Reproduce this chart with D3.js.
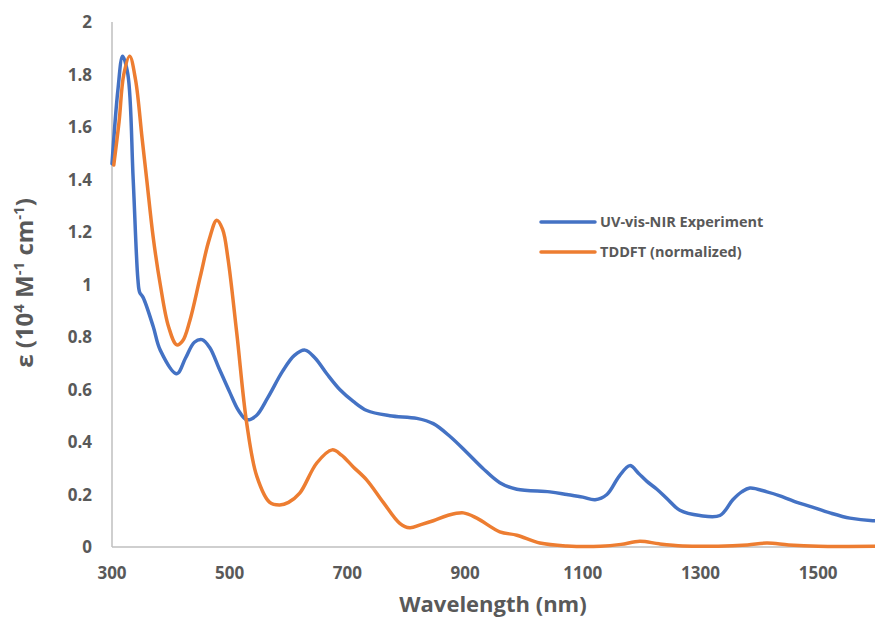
<!DOCTYPE html>
<html>
<head>
<meta charset="utf-8">
<script src="https://cdn.jsdelivr.net/npm/d3@7"></script>
<style>
  html, body { margin: 0; padding: 0; background: #fff; }
  svg text { font-family: "Open Sans", Lato, sans-serif; font-weight: bold; fill: #595959; }
</style>
</head>
<body>
<svg id="chart" width="875" height="617"></svg>
<script>
// Wavelength grid (nm) and absorbance values (10^4 M^-1 cm^-1)
const expWavelength = [300, 310, 318, 327, 336, 344, 347, 353, 370, 382, 410, 425, 440, 453, 466, 482, 500, 515, 529, 545, 565, 590, 610, 628, 645, 665, 687, 710, 733, 772, 818, 846, 875, 903, 930, 959, 988, 1044, 1073, 1100, 1121, 1141, 1162, 1180, 1195, 1209, 1226, 1245, 1265, 1299, 1333, 1355, 1370, 1384, 1413, 1435, 1464, 1486, 1520, 1554, 1593, 1600];
const expValues     = [1.46, 1.74, 1.87, 1.80, 1.40, 1.02, 0.97, 0.95, 0.84, 0.75, 0.66, 0.72, 0.78, 0.79, 0.76, 0.68, 0.59, 0.52, 0.485, 0.50, 0.57, 0.67, 0.73, 0.75, 0.72, 0.66, 0.60, 0.555, 0.52, 0.50, 0.49, 0.47, 0.42, 0.36, 0.30, 0.245, 0.22, 0.21, 0.20, 0.19, 0.18, 0.20, 0.27, 0.31, 0.28, 0.25, 0.22, 0.18, 0.14, 0.12, 0.12, 0.18, 0.21, 0.225, 0.21, 0.195, 0.17, 0.155, 0.13, 0.11, 0.10, 0.10];

const calcWavelength = [303, 312, 320, 330, 340, 351, 359, 370, 382, 396, 410, 420, 432, 450, 465, 478, 488, 497, 512, 529, 546, 568, 585, 600, 619, 648, 674, 690, 710, 733, 761, 789, 806, 825, 846, 870, 897, 920, 959, 988, 1027, 1073, 1130, 1165, 1197, 1230, 1270, 1330, 1380, 1413, 1450, 1500, 1600];
const calcValues     = [1.455, 1.62, 1.80, 1.87, 1.78, 1.56, 1.40, 1.18, 1.00, 0.84, 0.77, 0.785, 0.86, 1.03, 1.17, 1.245, 1.21, 1.10, 0.815, 0.47, 0.27, 0.17, 0.16, 0.17, 0.205, 0.32, 0.37, 0.35, 0.305, 0.255, 0.17, 0.09, 0.073, 0.085, 0.10, 0.12, 0.13, 0.11, 0.058, 0.045, 0.015, 0.004, 0.003, 0.01, 0.022, 0.012, 0.004, 0.003, 0.008, 0.015, 0.008, 0.003, 0.003];

const seriesNames  = ["UV-vis-NIR Experiment", "TDDFT (normalized)"];
const seriesColors = ["#4472C4", "#ED7D31"];
const xTicks = [300, 500, 700, 900, 1100, 1300, 1500];
const yTicks = [0, 0.2, 0.4, 0.6, 0.8, 1, 1.2, 1.4, 1.6, 1.8, 2];

const svg = d3.select("#chart");

const x = d3.scaleLinear().domain([300, 1600]).range([112, 877]);
const y = d3.scaleLinear().domain([0, 2]).range([547, 22]);

// Axis lines
svg.append("line").attr("x1", x(300)).attr("x2", x(300)).attr("y1", y(2)).attr("y2", y(0))
  .attr("stroke", "#BFBFBF").attr("stroke-width", 1.5);
svg.append("line").attr("x1", x(300)).attr("x2", 875).attr("y1", y(0)).attr("y2", y(0))
  .attr("stroke", "#BFBFBF").attr("stroke-width", 1.5);

// Tick labels
svg.append("g").selectAll("text").data(yTicks).join("text")
  .attr("x", 92).attr("y", d => y(d)).attr("dy", "0.36em")
  .attr("text-anchor", "end").attr("font-size", 17)
  .text(d => d3.format("~g")(d));

svg.append("g").selectAll("text").data(xTicks).join("text")
  .attr("x", d => x(d)).attr("y", 579)
  .attr("text-anchor", "middle").attr("font-size", 17)
  .text(d => d);

// Axis titles
svg.append("text").attr("x", 493).attr("y", 612).attr("text-anchor", "middle")
  .attr("font-size", 22).text("Wavelength (nm)");

const yTitle = svg.append("text")
  .attr("transform", "translate(33,283) rotate(-90)")
  .attr("text-anchor", "middle").attr("font-size", 24);
yTitle.append("tspan").text("ε (10");
yTitle.append("tspan").attr("font-size", 15).attr("dy", -9).text("4");
yTitle.append("tspan").attr("dy", 9).text(" M");
yTitle.append("tspan").attr("font-size", 15).attr("dy", -9).text("-1");
yTitle.append("tspan").attr("dy", 9).text(" cm");
yTitle.append("tspan").attr("font-size", 15).attr("dy", -9).text("-1");
yTitle.append("tspan").attr("dy", 9).text(")");

// Spectra
const line = d3.line().x(d => x(d[0])).y(d => y(d[1])).curve(d3.curveCatmullRom.alpha(0.5));
const series = [
  d3.zip(expWavelength, expValues),
  d3.zip(calcWavelength, calcValues)
];
svg.append("g").selectAll("path").data(series).join("path")
  .attr("d", line).attr("fill", "none")
  .attr("stroke", (d, i) => seriesColors[i]).attr("stroke-width", 3.5)
  .attr("stroke-linejoin", "round").attr("stroke-linecap", "round");

// Legend
const legend = svg.append("g").selectAll("g").data(seriesNames).join("g")
  .attr("transform", (d, i) => `translate(541,${222 + i * 30})`);
legend.append("line").attr("x1", 0).attr("x2", 54)
  .attr("stroke", (d, i) => seriesColors[i]).attr("stroke-width", 3.5).attr("stroke-linecap", "round");
legend.append("text").attr("x", 59).attr("dy", "0.36em").attr("font-size", 14.5).text(d => d);
</script>
</body>
</html>
